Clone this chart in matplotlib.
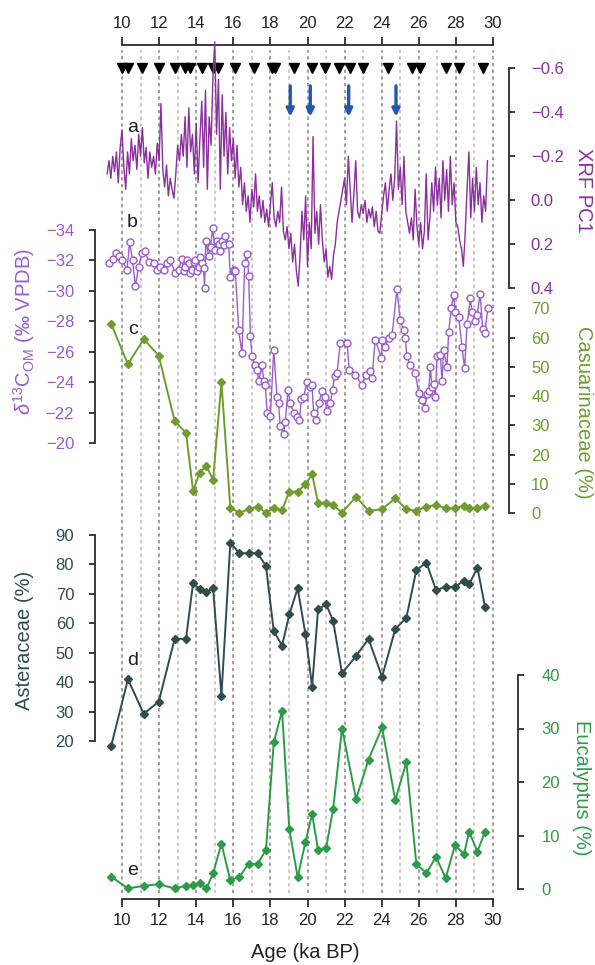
import matplotlib
matplotlib.use("Agg")
import matplotlib.pyplot as plt
import numpy as np

plt.rcParams['font.family'] = ['Liberation Sans', 'DejaVu Sans']
plt.rcParams['mathtext.fontset'] = 'custom'
plt.rcParams['mathtext.rm'] = 'Liberation Sans'
plt.rcParams['mathtext.it'] = 'Liberation Sans:italic'

# ---- data -------------------------------------------------------------
# radiocarbon dates (ka BP)
date_ages = [10.0, 10.3, 11.08, 11.97, 12.87, 13.37, 13.68, 14.31, 14.88, 15.18,
             16.11, 17.09, 18.09, 18.26, 19.29, 20.24, 20.95, 21.68, 22.27, 22.99,
             24.33, 25.63, 26.08, 27.48, 28.15, 29.46]
event_ages = [19.07, 20.15, 22.22, 24.77]

# XRF PC1 scan, 0.1 ka step starting at 9.2 ka
xrf_start = 9.2
xrf_step = 0.1
xrf_pc1 = [-0.12, -0.18, -0.10, -0.20, -0.13, -0.22, -0.08, -0.24,
           -0.32, -0.15, -0.05, -0.22, -0.12, -0.28, -0.18, -0.25, -0.14, -0.30,
           -0.20, -0.33, -0.17, -0.24, -0.10, -0.22, -0.15, -0.20, -0.12, -0.26,
           -0.18, -0.44, -0.14, -0.06, -0.16, -0.02, -0.10, -0.05, -0.01, -0.12,
           -0.25, -0.18, -0.30, -0.20, -0.38, -0.15, -0.42, -0.22, -0.30, -0.12,
           -0.35, -0.08, -0.28, -0.45, -0.15, -0.50, -0.05, -0.38, -0.25, -0.55,
           -0.72, -0.30, -0.55, -0.05, -0.48, -0.20, -0.40, -0.12, -0.33, -0.18,
           -0.28, -0.10, -0.25, -0.06, -0.15, 0.02, -0.08, 0.05, -0.02, 0.10,
           -0.05, 0.03, -0.12, 0.05, -0.02, 0.08, 0.00, 0.10, 0.04, 0.12,
           0.02, -0.08, 0.08, 0.12, 0.05, 0.10, -0.06, 0.14, 0.18, 0.12,
           0.22, 0.15, 0.28, 0.20, 0.32, 0.39, 0.25, 0.05, 0.18, -0.02,
           0.30, 0.10, 0.22, -0.29, 0.15, 0.05, 0.20, 0.02, 0.18, 0.28,
           0.22, 0.35, 0.30, 0.36, 0.25, 0.20, 0.10, 0.05, 0.00, -0.05,
           -0.10, 0.02, -0.20, -0.05, 0.10, -0.03, -0.18, 0.05, 0.08, 0.02,
           0.06, 0.00, 0.10, 0.04, 0.08, 0.03, 0.12, 0.05, 0.14, 0.15,
           0.06, -0.02, -0.08, 0.05, -0.05, -0.12, 0.00, -0.10, -0.36, -0.05,
           -0.15, 0.02, -0.20, 0.05, 0.10, 0.15, 0.08, 0.18, -0.05, 0.12,
           0.20, 0.10, 0.22, 0.14, -0.12, 0.18, 0.08, -0.08, 0.05, -0.15,
           0.02, -0.10, 0.08, -0.18, 0.00, -0.14, 0.05, -0.20, 0.02, -0.08,
           0.10, 0.12, 0.18, 0.22, 0.30, 0.15, -0.05, -0.22, 0.08, -0.10,
           0.05, -0.15, 0.02, -0.08, 0.10, -0.02, 0.05, -0.18]

d13c_age = [9.28, 9.49, 9.68, 9.85, 10.0, 10.27, 10.41, 10.57, 10.72, 10.9,
            11.08, 11.26, 11.44, 11.7, 11.89, 12.06, 12.24, 12.43, 12.6, 12.87,
            13.05, 13.23, 13.32, 13.41, 13.5, 13.59, 13.68, 13.77, 13.86, 13.95,
            14.05, 14.13, 14.22, 14.31, 14.4, 14.45, 14.52, 14.67, 14.78, 14.88,
            15.03, 15.12, 15.21, 15.3, 15.39, 15.48, 15.57, 15.75, 15.84, 16.02,
            16.11, 16.29, 16.47, 16.61, 16.74, 16.83, 16.92, 17.01, 17.15, 17.28,
            17.37, 17.55, 17.64, 17.73, 17.82, 18.0, 18.18, 18.36, 18.44, 18.53,
            18.71, 18.8, 18.95, 19.07, 19.25, 19.43, 19.56, 19.67, 19.79, 19.97,
            20.15, 20.24, 20.33, 20.46, 20.6, 20.78, 20.92, 21.05, 21.23, 21.35,
            21.46, 21.59, 21.77, 22.13, 22.25, 22.58, 22.94, 23.15, 23.39, 23.48,
            23.65, 23.98, 24.02, 24.19, 24.37, 24.56, 24.82, 25.0, 25.18, 25.27,
            25.36, 25.54, 25.81, 25.99, 26.17, 26.31, 26.44, 26.53, 26.62, 26.71,
            26.8, 26.89, 26.98, 27.16, 27.25, 27.34, 27.52, 27.61, 27.75, 27.88,
            27.97, 28.15, 28.33, 28.47, 28.6, 28.78, 28.87, 29.01, 29.14, 29.31,
            29.44, 29.55, 29.73]
d13c_om = [-31.8, -32.1, -32.5, -32.3, -32.0, -31.4, -33.2, -32.0, -30.3, -31.6,
           -32.5, -32.6, -31.9, -31.8, -31.4, -31.6, -31.4, -31.8, -32.0, -31.2,
           -31.4, -32.1, -31.3, -31.6, -32.0, -31.8, -31.2, -31.4, -31.9, -32.0,
           -31.3, -31.6, -32.2, -31.8, -31.5, -30.2, -33.3, -32.3, -32.9, -34.1,
           -32.7, -33.3, -33.1, -32.6, -33.3, -33.0, -33.6, -33.1, -30.9, -31.4,
           -31.3, -27.4, -25.9, -31.8, -32.4, -31.0, -27.0, -25.7, -25.1, -24.8,
           -24.1, -25.1, -24.1, -23.8, -22.0, -21.8, -26.1, -23.0, -22.6, -21.1,
           -20.6, -21.4, -23.5, -22.6, -22.0, -21.7, -21.5, -22.9, -23.0, -24.0,
           -23.7, -23.8, -22.0, -21.5, -22.6, -23.4, -23.0, -22.1, -22.6, -23.5,
           -24.4, -24.6, -26.6, -26.6, -24.8, -24.5, -23.8, -24.5, -24.7, -24.3,
           -26.8, -25.6, -26.8, -26.3, -26.9, -27.1, -30.1, -28.1, -27.4, -26.9,
           -25.7, -25.1, -24.6, -23.3, -22.8, -22.3, -23.2, -23.4, -25.0, -23.7,
           -23.9, -23.0, -25.7, -25.8, -24.1, -26.1, -25.0, -27.3, -28.9, -29.7,
           -28.6, -28.3, -26.3, -24.9, -27.8, -29.5, -28.6, -28.0, -28.4, -29.8,
           -27.5, -27.2, -28.9]

pollen_age = [9.42, 10.32, 11.17, 11.98, 12.84, 13.45, 13.83, 14.19, 14.55, 14.91,
              15.36, 15.84, 16.33, 16.83, 17.31, 17.76, 18.18, 18.63, 19.02, 19.47,
              19.89, 20.25, 20.57, 21.0, 21.38, 21.86, 22.62, 23.29, 24.02, 24.73,
              25.33, 25.87, 26.41, 26.93, 27.45, 27.95, 28.44, 28.71, 29.16, 29.57]
casuarinaceae = [64.6, 50.9, 59.5, 53.8, 31.5, 27.5, 7.7, 13.9, 16.1, 11.4,
                 44.7, 1.9, 0.2, 1.4, 2.3, 0.2, 1.7, 1.1, 7.4, 7.4,
                 9.9, 13.3, 3.6, 3.6, 2.8, 0.2, 5.7, 0.8, 1.4, 5.1,
                 1.4, 0.9, 2.3, 2.8, 1.7, 1.7, 2.6, 1.7, 1.9, 2.6]
asteraceae = [18.4, 41.0, 29.2, 33.4, 54.7, 54.7, 73.6, 71.6, 70.7, 71.9,
              35.4, 87.4, 83.8, 83.8, 83.8, 79.5, 57.4, 52.4, 63.0, 71.9,
              56.3, 38.5, 64.7, 66.5, 60.9, 43.0, 48.9, 54.7, 41.8, 58.0,
              61.9, 78.1, 80.6, 71.3, 72.4, 72.4, 74.5, 73.2, 78.9, 65.6]
eucalyptus = [2.3, 0.1, 0.6, 0.9, 0.1, 0.6, 0.7, 1.1, 0.1, 2.9,
              8.5, 1.6, 2.3, 4.7, 4.7, 7.3, 27.4, 33.3, 11.2, 2.2,
              8.8, 14.0, 7.3, 7.6, 14.9, 30.0, 16.8, 24.2, 30.2, 16.6,
              23.7, 4.6, 3.0, 6.0, 2.0, 8.2, 6.5, 10.7, 7.0, 10.7]

# ---- layout (pixels) --------------------------------------------------
W, H = 595, 965
X0, X1 = 95, 518          # frame left / right
Y0, Y1 = 45, 899          # top axis / bottom axis
PX10, PX30 = 122, 493     # where 10 and 30 ka fall
ka_px = (PX30 - PX10) / 20.0
xlim = (10 - (PX10 - X0) / ka_px, 10 + (X1 - PX10) / ka_px)
rect = [X0 / W, 1 - Y1 / H, (X1 - X0) / W, (Y1 - Y0) / H]

SPINE = '#2b2b2b'
XRF_C = '#8a2f9c'
D13_C = '#9a5ccc'
CAS_C = '#6f9c2e'
AST_C = '#2e4d4b'
EUC_C = '#2c9c48'


def frac_y(px):
    return (Y1 - px) / (Y1 - Y0)


def ylim_for(v_top, px_top, v_bot, px_bot):
    k = (v_bot - v_top) / (px_bot - px_top)
    return v_top + k * (Y1 - px_top), v_top + k * (Y0 - px_top)


fig = plt.figure(figsize=(W / 100, H / 100), dpi=100)

# base frame: age axes, reference lines and date markers
base = fig.add_axes(rect)
base.patch.set_alpha(0)
base.set_xlim(xlim)
base.set_ylim(0, 1)
base.spines['left'].set_visible(False)
base.spines['right'].set_visible(False)
for s in ('top', 'bottom'):
    base.spines[s].set_bounds(10, 30)
    base.spines[s].set_color(SPINE)
    base.spines[s].set_linewidth(1.3)
base.set_xticks(range(10, 31, 2))
base.set_yticks([])
base.tick_params(axis='x', top=True, labeltop=True, bottom=True, labelbottom=True,
                 direction='out', length=6, width=1.3, color=SPINE,
                 labelsize=12, labelcolor='#222222', pad=4)

for age in range(10, 31):
    base.axvline(age, ymin=frac_y(893), ymax=frac_y(50),
                 color='#8e8080' if age % 2 == 0 else '#c4b6b6',
                 lw=1.1, ls=(0, (2.2, 2.2)), zorder=0)

base.plot(date_ages, [frac_y(68)] * len(date_ages), 'v', color='black',
          ms=6.5, clip_on=False, zorder=5)


def panel(v_top, px_top, v_bot, px_bot, side, ticks, color, pad, spine_at=None):
    ax = fig.add_axes(rect)
    ax.patch.set_alpha(0)
    ax.set_xlim(xlim)
    ax.set_ylim(*ylim_for(v_top, px_top, v_bot, px_bot))
    for s in ax.spines:
        ax.spines[s].set_visible(s == side)
    sp = ax.spines[side]
    sp.set_bounds(min(v_top, v_bot), max(v_top, v_bot))
    sp.set_color(SPINE)
    sp.set_linewidth(1.3)
    if spine_at is not None:
        sp.set_position(('axes', spine_at))
    ax.yaxis.set_ticks_position(side)
    ax.set_yticks(ticks)
    ax.tick_params(axis='y', direction='out', length=4, width=1.3, color=SPINE,
                   labelsize=12, labelcolor=color, pad=pad)
    ax.set_xticks([])
    return ax


# a: XRF PC1
ax_a = panel(-0.6, 68.3, 0.4, 288.3, 'right', [-0.6, -0.4, -0.2, 0.0, 0.2, 0.4],
             XRF_C, 12, spine_at=(508.5 - X0) / (X1 - X0))
ax_a.yaxis.set_major_formatter(plt.FuncFormatter(lambda v, p: f'{v:.1f}'.replace('-', '\u2212')))
xrf_age = xrf_start + xrf_step * np.arange(len(xrf_pc1))
ax_a.plot(xrf_age, xrf_pc1, color=XRF_C, lw=1.0, clip_on=False)
for age in event_ages:
    ax_a.annotate('', xy=(age, -0.38), xytext=(age, -0.52),
                  arrowprops=dict(arrowstyle='-|>', color='#2058b0', lw=2.4,
                                  mutation_scale=11, shrinkA=0, shrinkB=0))
ax_a.text(10.57, -0.33, 'a', fontsize=14, color='#222222', ha='center', va='center')

# b: d13C of organic matter
ax_b = panel(-34, 230, -20, 443, 'left', list(range(-34, -19, 2)), D13_C, 11)
ax_b.plot(d13c_age, d13c_om, color=D13_C, lw=1.0, marker='o', ms=5,
          mfc='white', mec=D13_C, mew=1.0, clip_on=False)
ax_b.text(10.57, -34.5, 'b', fontsize=14, color='#222222', ha='center', va='center')

# c: Casuarinaceae
ax_c = panel(70, 308.3, 0, 513.3, 'right', list(range(0, 71, 10)), CAS_C, 12,
             spine_at=(509 - X0) / (X1 - X0))
ax_c.plot(pollen_age, casuarinaceae, color=CAS_C, lw=1.4, marker='D', ms=4,
          clip_on=False)
ax_c.text(10.57, 62.6, 'c', fontsize=14, color='#222222', ha='center', va='center')

# d: Asteraceae
ax_d = panel(90, 535, 20, 741, 'left', list(range(20, 91, 10)), AST_C, 11)
ax_d.plot(pollen_age, asteraceae, color=AST_C, lw=1.4, marker='D', ms=4,
          clip_on=False)
ax_d.text(10.57, 47.5, 'd', fontsize=14, color='#222222', ha='center', va='center')

# e: Eucalyptus
ax_e = panel(40, 675, 0, 889, 'right', list(range(0, 41, 10)), EUC_C, 13)
ax_e.plot(pollen_age, eucalyptus, color=EUC_C, lw=1.4, marker='D', ms=4,
          clip_on=False)
ax_e.text(10.57, 3.55, 'e', fontsize=14, color='#222222', ha='center', va='center')

# axis titles
fig.text(583 / W, 1 - 190 / H, 'XRF PC1', rotation=270, color=XRF_C,
         fontsize=14.5, ha='center', va='center')
fig.text(24 / W, 1 - 331 / H, r'$\delta^{13}$C$_{\mathrm{OM}}$ (‰ VPDB)', rotation=90,
         color=D13_C, fontsize=14.5, ha='center', va='center')
fig.text(583 / W, 1 - 412 / H, 'Casuarinaceae (%)', rotation=270, color=CAS_C,
         fontsize=14.5, ha='center', va='center')
fig.text(25 / W, 1 - 640 / H, 'Asteraceae (%)', rotation=90, color=AST_C,
         fontsize=14.5, ha='center', va='center')
fig.text(582 / W, 1 - 788 / H, 'Eucalyptus (%)', rotation=270, color=EUC_C,
         fontsize=14.5, ha='center', va='center')
fig.text(305 / W, 1 - 953 / H, 'Age (ka BP)', color='#222222',
         fontsize=14.5, ha='center', va='center')

fig.savefig('out.png', dpi=100, facecolor='white')
